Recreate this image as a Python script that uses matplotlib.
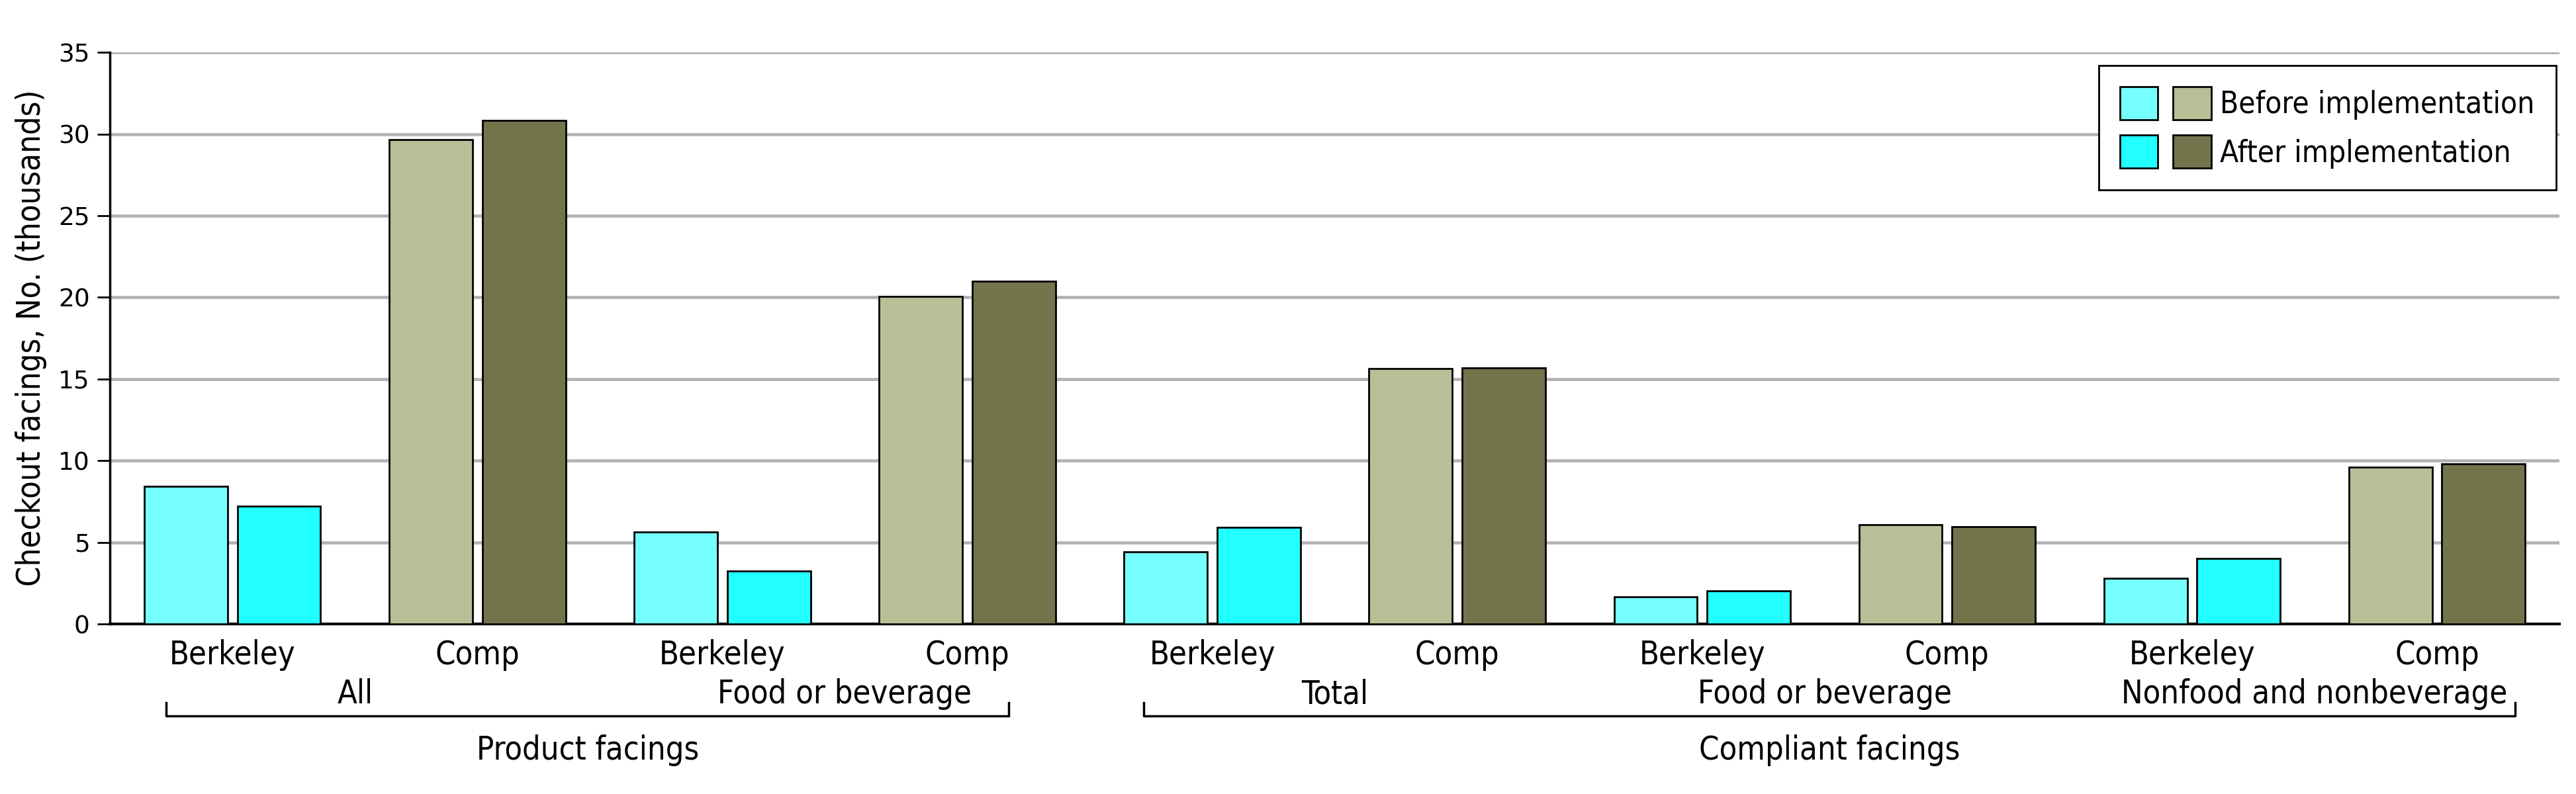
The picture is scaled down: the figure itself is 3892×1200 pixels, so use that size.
"""
Checkout facings before/after implementation, Berkeley vs comparison
"""

import matplotlib
matplotlib.use("Agg")
import matplotlib.pyplot as plt
from matplotlib.patches import Patch
from matplotlib.legend_handler import HandlerTuple
from matplotlib.transforms import blended_transform_factory
from matplotlib import font_manager

# Data (thousands of facings)
categories = ["Berkeley", "Comp", "Berkeley", "Comp", "Berkeley", "Comp",
              "Berkeley", "Comp", "Berkeley", "Comp"]
before = [8.44, 29.65, 5.64, 20.06, 4.44, 15.65, 1.67, 6.07, 2.80, 9.61]
after = [7.23, 30.85, 3.25, 21.0, 5.93, 15.70, 2.03, 5.95, 4.01, 9.83]
groups = ["All", "Food or beverage", "Total", "Food or beverage", "Nonfood and nonbeverage"]
supergroups = ["Product facings", "Compliant facings"]
y_ticks = [0, 5, 10, 15, 20, 25, 30, 35]

# Colours
berk_before = "#75FFFF"
berk_after = "#22FFFF"
comp_before = "#B8BF96"
comp_after = "#74744C"

fs = 35
txt = dict(family="DejaVu Sans", stretch="condensed", size=fs)

fig = plt.figure(figsize=(38.92, 12), dpi=100, facecolor="white")
ax = fig.add_axes([0.0427, 0.214, 0.9509, 0.72])

width = 0.34
offset = 0.19
for i, cat in enumerate(categories):
    c_before = berk_before if cat == "Berkeley" else comp_before
    c_after = berk_after if cat == "Berkeley" else comp_after
    ax.bar(i - offset, before[i], width, color=c_before, edgecolor="black",
           linewidth=2, zorder=3)
    ax.bar(i + offset, after[i], width, color=c_after, edgecolor="black",
           linewidth=2, zorder=3)

ax.set_xlim(-0.5, len(categories) - 0.5)
ax.set_ylim(0, 35)
ax.set_yticks(y_ticks)
ax.set_yticklabels([str(v) for v in y_ticks], fontsize=27, family="DejaVu Sans")
ax.tick_params(axis="y", length=14, width=2, direction="out", pad=8)
ax.set_xticks([])
ax.yaxis.grid(True, color="#B3B3B3", linewidth=3.4, zorder=0)
ax.set_axisbelow(True)

for side in ["top", "right"]:
    ax.spines[side].set_visible(False)
ax.spines["left"].set_linewidth(2.5)
ax.spines["bottom"].set_linewidth(3)

ax.set_ylabel("Checkout facings, No. (thousands)", fontdict=txt, labelpad=12)

trans = blended_transform_factory(ax.transData, ax.transAxes)

# Category labels
for i, cat in enumerate(categories):
    ax.text(i, -0.054, cat, transform=trans, ha="center", va="center",
            fontdict=txt, clip_on=False)

# Group labels (centred between each Berkeley/Comp pair)
for g, name in enumerate(groups):
    ax.text(2 * g + 0.5, -0.123, name, transform=trans, ha="center", va="center",
            fontdict=txt, clip_on=False)

# Brackets and super-group labels
brackets = [(-0.27, 3.17), (3.72, 9.32)]
for (x0, x1), name in zip(brackets, supergroups):
    ax.plot([x0, x0, x1, x1], [-0.138, -0.161, -0.161, -0.138], transform=trans,
            color="black", linewidth=2.5, clip_on=False)
    ax.text((x0 + x1) / 2, -0.221, name, transform=trans, ha="center",
            va="center", fontdict=txt, clip_on=False)

# Legend with paired swatches
h_before = (Patch(facecolor=berk_before, edgecolor="black", linewidth=2),
            Patch(facecolor=comp_before, edgecolor="black", linewidth=2))
h_after = (Patch(facecolor=berk_after, edgecolor="black", linewidth=2),
           Patch(facecolor=comp_after, edgecolor="black", linewidth=2))
leg = ax.legend([h_before, h_after], ["Before implementation", "After implementation"],
                handler_map={tuple: HandlerTuple(ndivide=None, pad=0.5)},
                loc="upper right", bbox_to_anchor=(0.9986, 0.977), borderaxespad=0,
                prop=font_manager.FontProperties(family="DejaVu Sans",
                                                 stretch="condensed", size=33),
                handlelength=3.0, handleheight=1.3, handletextpad=0.3,
                labelspacing=0.5, borderpad=0.7, fancybox=False,
                edgecolor="black", framealpha=1)
leg.get_frame().set_linewidth(2)

fig.savefig("out.png", dpi=100, facecolor="white")
plt.close(fig)
